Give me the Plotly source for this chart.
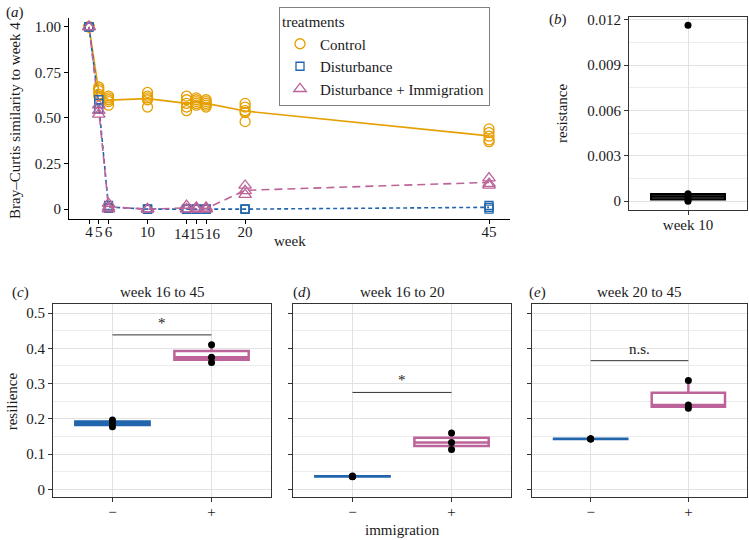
import numpy as np
import plotly.graph_objects as go

# ---------------- data ----------------
weeks = [4, 5, 6, 10, 14, 15, 16, 20, 45]
week_labels = ["4", "5", "6", "10", "14", "15", "16", "20", "45"]
# the crowded labels 14/15/16 are nudged apart in the original figure
crowded_weeks = [14, 15, 16]

control_sim = [
    [1.00, 1.00, 1.00, 1.00, 1.00],
    [0.67, 0.66, 0.65, 0.63, 0.62],
    [0.62, 0.61, 0.60, 0.59, 0.57],
    [0.64, 0.62, 0.61, 0.60, 0.56],
    [0.62, 0.60, 0.58, 0.56, 0.54],
    [0.61, 0.60, 0.59, 0.58, 0.57],
    [0.60, 0.59, 0.58, 0.57, 0.56],
    [0.58, 0.56, 0.54, 0.53, 0.48],
    [0.44, 0.42, 0.40, 0.38, 0.37],
]
disturb_sim = [
    [1.00, 1.00, 1.00],
    [0.60, 0.58, 0.55],
    [0.02, 0.01, 0.005],
    [0.00, 0.00, 0.00],
    [0.00, 0.00, 0.00],
    [0.00, 0.00, 0.00],
    [0.00, 0.00, 0.00],
    [0.00, 0.00, 0.00],
    [0.02, 0.01, 0.00],
]
immig_sim = [
    [1.00, 1.00, 1.00],
    [0.57, 0.54, 0.52],
    [0.03, 0.01, 0.00],
    [0.00, 0.00, 0.00],
    [0.02, 0.00, 0.00],
    [0.01, 0.00, 0.00],
    [0.01, 0.00, 0.00],
    [0.13, 0.10, 0.08],
    [0.17, 0.14, 0.13],
]
treatments = ["Control", "Disturbance", "Disturbance + Immigration"]

resistance_week10 = [0.0, 0.0001, 0.0002, 0.0004, 0.0005, 0.01165]

resil_titles = ["week 16 to 45", "week 16 to 20", "week 20 to 45"]
resil_panel_tags = ["c", "d", "e"]
immigration_levels = ["−", "+"]
resil_minus = [
    [0.178, 0.188, 0.197],
    [0.036, 0.037, 0.038],
    [0.143, 0.143, 0.144],
]
resil_plus = [
    [0.360, 0.375, 0.410],
    [0.113, 0.133, 0.160],
    [0.230, 0.239, 0.309],
]
sig_labels = ["*", "*", "n.s."]
sig_heights = [0.438, 0.275, 0.365]

resil_ticks = [0, 0.1, 0.2, 0.3, 0.4, 0.5]
resil_ticktext = ["0", "0.1", "0.2", "0.3", "0.4", "0.5"]
resist_ticks = [0, 0.003, 0.006, 0.009, 0.012]
resist_ticktext = ["0", "0.003", "0.006", "0.009", "0.012"]
sim_ticks = [0, 0.25, 0.5, 0.75, 1.0]
sim_ticktext = ["0", "0.25", "0.50", "0.75", "1.00"]

# ---------------- style ----------------
W, H = 749, 540
FONT = "Liberation Serif, Times New Roman, Times, serif"
ORANGE = "#E69F00"
BLUE = "#2166AC"
PINK = "#BC6499"
TXT = "#1a1a1a"
GRID = "#E2E2E2"
GRID_MINOR = "#ECECEC"
CROWD_SHIFT = {14: -4.5, 15: 0.5, 16: 7.0}   # px nudges for crowded labels


def px(x):
    return x / W


def py(y):
    return 1 - y / H


fig = go.Figure()
annos = []

# ---------------- panel a ----------------
series = [
    (treatments[0], control_sim, ORANGE, "circle-open", "solid", 10),
    (treatments[1], disturb_sim, BLUE, "square-open", "4px,3px", 8),
    (treatments[2], immig_sim, PINK, "triangle-up-open", "8px,5px", 11),
]
for name, data, color, symbol, dash, size in series:
    means = [float(np.mean(v)) for v in data]
    fig.add_trace(go.Scatter(
        x=weeks, y=means, mode="lines", showlegend=False, hoverinfo="skip",
        line=dict(color=color, width=1.6, dash=dash), xaxis="x", yaxis="y"))
for name, data, color, symbol, dash, size in series:
    xs = [w for w, vals in zip(weeks, data) for _ in vals]
    ys = [v for vals in data for v in vals]
    fig.add_trace(go.Scatter(
        x=xs, y=ys, mode="markers", name=name,
        marker=dict(symbol=symbol, size=size, color=color,
                    line=dict(width=1.3, color=color)),
        xaxis="x", yaxis="y"))


# ---------------- panel b ----------------
def box_stats(vals):
    v = np.array(vals, dtype=float)
    q1, med, q3 = np.percentile(v, [25, 50, 75])
    iqr = q3 - q1
    lo = v[v >= q1 - 1.5 * iqr].min()
    hi = v[v <= q3 + 1.5 * iqr].max()
    return q1, med, q3, lo, hi


q1, med, q3, lo, hi = box_stats(resistance_week10)
fig.add_trace(go.Box(
    x=[0], q1=[q1], median=[med], q3=[q3], lowerfence=[lo], upperfence=[hi],
    width=0.75, whiskerwidth=0, boxpoints=False, fillcolor="#8a8a8a",
    line=dict(color="black", width=2.2), showlegend=False,
    xaxis="x2", yaxis="y2"))
fig.add_trace(go.Scatter(
    x=[0] * len(resistance_week10), y=resistance_week10, mode="markers",
    marker=dict(color="black", size=7), showlegend=False,
    xaxis="x2", yaxis="y2"))

# ---------------- panels c, d, e ----------------
shapes = []
for i in range(3):
    xa, ya = f"x{i + 3}", f"y{i + 3}"
    for pos, vals, color in [(0, resil_minus[i], BLUE), (1, resil_plus[i], PINK)]:
        q1, med, q3, lo, hi = box_stats(vals)
        fig.add_trace(go.Box(
            x=[pos], q1=[q1], median=[med], q3=[q3], lowerfence=[lo],
            upperfence=[hi], width=0.75, whiskerwidth=0, boxpoints=False,
            fillcolor="white", line=dict(color=color, width=2.5),
            showlegend=False, xaxis=xa, yaxis=ya))
        fig.add_trace(go.Scatter(
            x=[pos] * len(vals), y=vals, mode="markers",
            marker=dict(color="black", size=7), showlegend=False,
            xaxis=xa, yaxis=ya))
    shapes.append(dict(type="line", xref=xa, yref=ya, x0=0, x1=1,
                       y0=sig_heights[i], y1=sig_heights[i],
                       line=dict(color="#333333", width=1)))
    annos.append(dict(xref=xa, yref=ya, x=0.5, y=sig_heights[i] + 0.006,
                      text=sig_labels[i], showarrow=False, yanchor="bottom",
                      font=dict(family=FONT, size=15, color=TXT)))

# ---------------- axes ----------------
tickfont = dict(family=FONT, size=15, color=TXT)
common_box_axis = dict(showline=True, mirror=True, linecolor="#333333",
                       linewidth=1, ticks="outside", ticklen=4,
                       tickcolor="#333333", zeroline=False, tickfont=tickfont,
                       tickangle=0)

a_ticktext = ["" if w in crowded_weeks else lab
              for w, lab in zip(weeks, week_labels)]

layout_axes = dict(
    xaxis=dict(domain=[px(69), px(510)], range=[1.95, 47.15],
               tickvals=weeks, ticktext=a_ticktext, showline=True,
               linecolor="black", linewidth=1, ticks="outside", ticklen=4,
               tickcolor="black", showgrid=False, zeroline=False,
               tickfont=tickfont, tickangle=0, ticklabelstandoff=-5,
               anchor="y"),
    yaxis=dict(domain=[py(216), py(13)], range=[-0.054, 1.049],
               tickvals=sim_ticks, ticktext=sim_ticktext, showline=True,
               linecolor="black", linewidth=1, ticks="outside", ticklen=4,
               tickcolor="black", showgrid=False, zeroline=False,
               tickfont=tickfont, anchor="x"),
    xaxis2=dict(domain=[px(629), px(747)], range=[-0.6, 0.6], tickvals=[0],
                ticktext=["week 10"], showgrid=True, gridcolor=GRID,
                gridwidth=1.2, anchor="y2", ticklabelstandoff=-3,
                **common_box_axis),
    yaxis2=dict(domain=[py(207), py(12)], range=[-0.000587, 0.0122],
                tickvals=resist_ticks, ticktext=resist_ticktext,
                showgrid=True, gridcolor=GRID, gridwidth=1.2,
                minor=dict(tickvals=[0.0015, 0.0045, 0.0075, 0.0105],
                           showgrid=True, gridcolor=GRID_MINOR, gridwidth=0.8,
                           ticks=""),
                anchor="x2", **common_box_axis),
)
panel_x = [(53, 271), (293, 511), (532, 747)]
for i in range(3):
    n = i + 3
    layout_axes[f"xaxis{n}"] = dict(
        domain=[px(panel_x[i][0]), px(panel_x[i][1])], range=[-0.6, 1.6],
        tickvals=[0, 1], ticktext=immigration_levels, showgrid=True,
        gridcolor=GRID, gridwidth=1.2, anchor=f"y{n}", ticklabelstandoff=-3,
        **common_box_axis)
    layout_axes[f"yaxis{n}"] = dict(
        domain=[py(497), py(302)], range=[-0.0225, 0.525],
        tickvals=resil_ticks, ticktext=resil_ticktext,
        showticklabels=(i == 0), showgrid=True, gridcolor=GRID,
        gridwidth=1.2,
        minor=dict(tickvals=[0.05, 0.15, 0.25, 0.35, 0.45], showgrid=True,
                   gridcolor=GRID_MINOR, gridwidth=0.8, ticks=""),
        anchor=f"x{n}", **common_box_axis)

# crowded week labels, placed like tick labels but nudged apart
for w, lab in zip(weeks, week_labels):
    if w in crowded_weeks:
        annos.append(dict(xref="x", yref="paper", x=w, y=py(231),
                          xshift=CROWD_SHIFT[w], text=lab, showarrow=False,
                          xanchor="center", yanchor="middle",
                          font=dict(family=FONT, size=15, color=TXT)))


# ---------------- text ----------------
def txt(x, y, text, angle=0, size=15, xanchor="center", yanchor="middle"):
    annos.append(dict(xref="paper", yref="paper", x=px(x), y=py(y), text=text,
                      showarrow=False, textangle=angle, xanchor=xanchor,
                      yanchor=yanchor, font=dict(family=FONT, size=size,
                                                 color=TXT)))


txt(15, 8, "(<i>a</i>)")
txt(558, 15, "(<i>b</i>)")
txt(15, 117, "Bray–Curtis similarity to week 4", angle=-90)
txt(290, 238, "week")
txt(562, 110, "resistance", angle=-90)
txt(12, 400, "resilience", angle=-90)
txt(402, 530, "immigration")
tag_x = [20, 302, 537]
for i in range(3):
    cx = (panel_x[i][0] + panel_x[i][1]) / 2
    txt(cx, 290, resil_titles[i])
    txt(tag_x[i], 290, f"(<i>{resil_panel_tags[i]}</i>)")

fig.update_layout(
    width=W, height=H, margin=dict(l=0, r=0, t=0, b=0),
    paper_bgcolor="white", plot_bgcolor="white", boxmode="overlay",
    font=dict(family=FONT, size=15, color=TXT),
    legend=dict(title=dict(text="treatments", font=dict(family=FONT, size=15)),
                x=px(279), y=py(2), xanchor="left", yanchor="top",
                bordercolor="#808080", borderwidth=1, bgcolor="white",
                font=dict(family=FONT, size=15, color=TXT),
                tracegroupgap=0),
    **layout_axes,
)
fig.layout.annotations = annos
fig.layout.shapes = shapes

fig.write_html("out.html",
               config={"displayModeBar": False},
               post_script="document.body.style.margin='0';"
                           "document.body.style.padding='0';")
